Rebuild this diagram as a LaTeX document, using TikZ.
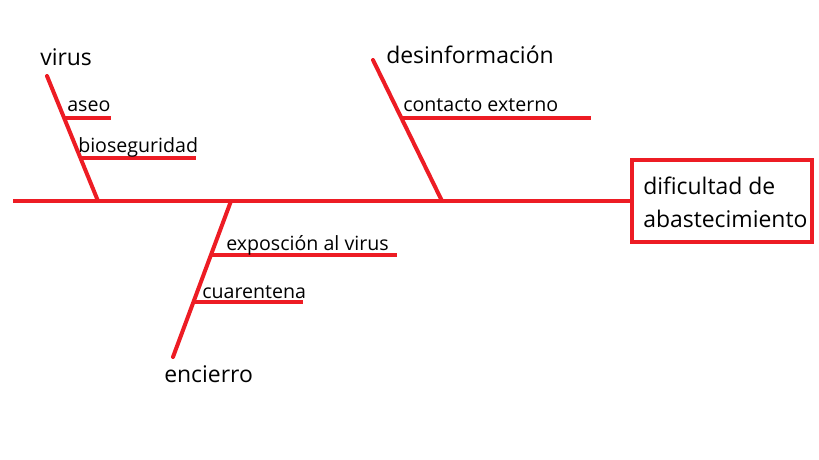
\documentclass[tikz,border=0pt]{standalone}
\usepackage{fontspec}
\setmainfont{Open Sans}
\usetikzlibrary{positioning}
\definecolor{bonered}{RGB}{237,28,36}

\begin{document}
\begin{tikzpicture}[x=0.75pt,y=-0.75pt,
  bone/.style={draw=bonered,line width=3pt,line cap=round},
  rib/.style={draw=bonered,line width=2.6pt},
  bigtxt/.style={inner sep=0pt,anchor=base west,font=\fontsize{17.2}{24.75}\selectfont},
  smalltxt/.style={inner sep=0pt,anchor=base west,font=\fontsize{14.7}{16}\selectfont},
  effectbox/.style={draw=bonered,line width=3pt,minimum width=135pt,minimum height=62pt,inner sep=0pt,anchor=west}]
  \useasboundingbox (0,0) rectangle (819,460);

  % spine and effect
  \coordinate (tail) at (13,201);
  \node[effectbox] (effect) at (630,201) {};
  \node[bigtxt,anchor=north west,align=left] (effecttxt) at (643,177)
    {dificultad de\\abastecimiento};
  \draw[bone,line cap=butt] (tail) -- (effect.west);

  % bone: virus
  \coordinate (virusTop) at (47,76);
  \coordinate (virusFoot) at (98,201);
  \draw[bone] (virusTop) -- (virusFoot);
  \node[bigtxt] (virus) at (40,66) {virus};
  \coordinate (aseoA) at (64,118);
  \coordinate (aseoB) at (111,118);
  \draw[rib] (aseoA) -- (aseoB);
  \node[smalltxt] (aseo) at (67,112) {aseo};
  \coordinate (bioA) at (80,158);
  \coordinate (bioB) at (196,158);
  \draw[rib] (bioA) -- (bioB);
  \node[smalltxt] (bio) at (78,153) {bioseguridad};

  % bone: desinformacion
  \coordinate (desTop) at (373,60);
  \coordinate (desFoot) at (442,201);
  \draw[bone] (desTop) -- (desFoot);
  \node[bigtxt] (des) at (386,64) {desinformación};
  \coordinate (contA) at (402,118);
  \coordinate (contB) at (591,118);
  \draw[rib] (contA) -- (contB);
  \node[smalltxt] (cont) at (403,112) {contacto externo};

  % bone: encierro
  \coordinate (encTop) at (231,201);
  \coordinate (encFoot) at (173,357);
  \draw[bone] (encTop) -- (encFoot);
  \node[bigtxt] (enc) at (164,382) {encierro};
  \coordinate (expA) at (211,255);
  \coordinate (expB) at (397,255);
  \draw[rib] (expA) -- (expB);
  \node[smalltxt] (exp) at (226,251) {exposción al virus};
  \coordinate (cuaA) at (194,302);
  \coordinate (cuaB) at (303,302);
  \draw[rib] (cuaA) -- (cuaB);
  \node[smalltxt] (cua) at (202,298) {cuarentena};
\end{tikzpicture}
\end{document}
